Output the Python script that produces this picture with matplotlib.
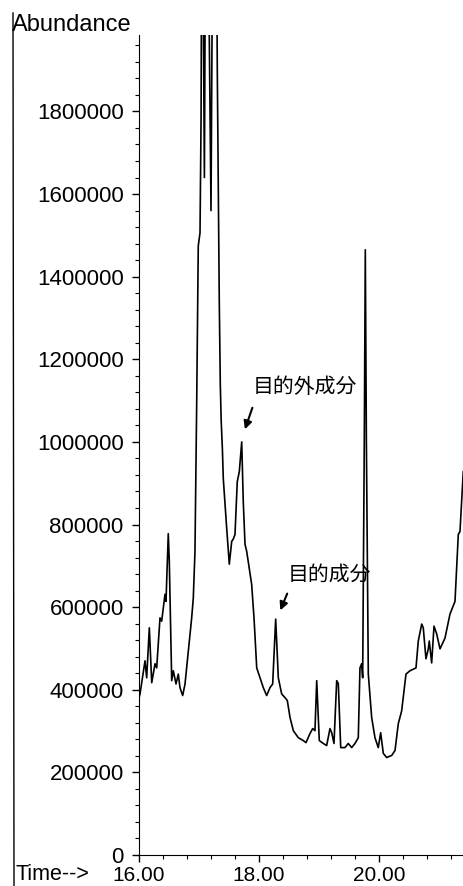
import matplotlib
matplotlib.use("Agg")
import matplotlib.pyplot as plt
from matplotlib.lines import Line2D
from matplotlib.ticker import MultipleLocator

plt.rcParams['font.family'] = ['Liberation Sans', 'Noto Sans CJK JP']

# retention time (min) and abundance
time = [16.00, 16.017, 16.10, 16.128, 16.172, 16.212, 16.267, 16.295, 16.35, 16.378,
        16.433, 16.45, 16.488, 16.505, 16.545, 16.572, 16.617, 16.655, 16.683, 16.728,
        16.767, 16.822, 16.878, 16.905, 16.933, 16.962, 16.988, 17.017, 17.035, 17.045,
        17.06, 17.09, 17.11, 17.15, 17.20, 17.23, 17.29, 17.305, 17.322, 17.338,
        17.355, 17.37, 17.39, 17.405, 17.462, 17.505, 17.545, 17.572, 17.60, 17.638,
        17.672, 17.712, 17.738, 17.767, 17.795, 17.838, 17.878, 17.917, 17.962, 18.017,
        18.072, 18.128, 18.183, 18.228, 18.278, 18.322, 18.378, 18.433, 18.472, 18.517,
        18.572, 18.655, 18.738, 18.783, 18.85, 18.895, 18.933, 18.962, 19.005, 19.072,
        19.128, 19.183, 19.212, 19.25, 19.295, 19.322, 19.362, 19.433, 19.488, 19.545,
        19.60, 19.655, 19.683, 19.712, 19.728, 19.755, 19.772, 19.79, 19.822, 19.878,
        19.933, 19.988, 20.028, 20.072, 20.128, 20.212, 20.267, 20.322, 20.378, 20.45,
        20.517, 20.617, 20.655, 20.712, 20.738, 20.783, 20.822, 20.838, 20.878, 20.917,
        20.962, 21.017, 21.10, 21.183, 21.267, 21.322, 21.35, 21.378, 21.405]
abundance = [380000, 390000, 470000, 429000, 550000, 417000, 463000, 453000, 574000, 566000,
             631000, 614000, 778000, 711000, 422000, 446000, 414000, 438000, 405000, 386000,
             414000, 494000, 574000, 622000, 735000, 1100000, 1475000, 1506000, 1790000, 2300000,
             2300000, 1640000, 2300000, 2300000, 1560000, 2300000, 2300000, 1900000, 1595000, 1340000,
             1140000, 1050000, 983000, 911000, 790000, 704000, 759000, 765000, 776000, 904000,
             928000, 1000000, 855000, 752000, 735000, 694000, 655000, 574000, 453000, 429000,
             405000, 386000, 405000, 414000, 571000, 429000, 390000, 381000, 374000, 333000,
             301000, 284000, 277000, 272000, 294000, 306000, 301000, 422000, 277000, 270000,
             265000, 306000, 296000, 270000, 422000, 415000, 260000, 260000, 270000, 260000,
             270000, 284000, 453000, 463000, 429000, 1000000, 1465000, 1000000, 438000, 333000,
             284000, 260000, 296000, 246000, 236000, 241000, 253000, 318000, 349000, 438000,
             446000, 453000, 518000, 559000, 550000, 475000, 499000, 518000, 465000, 554000,
             535000, 499000, 525000, 583000, 614000, 776000, 783000, 855000, 928000]

fig = plt.figure(figsize=(4.64, 8.86), dpi=100)
ax = fig.add_axes([139 / 464, 31 / 886, 325 / 464, 820 / 886])
ax.plot(time, abundance, color='black', lw=1.2)

ax.set_xlim(16.0, 21.417)
ax.set_ylim(0, 1985000)
ax.spines['top'].set_visible(False)
ax.spines['right'].set_visible(False)

ax.xaxis.set_major_locator(MultipleLocator(2))
ax.xaxis.set_minor_locator(MultipleLocator(0.4))
ax.yaxis.set_major_locator(MultipleLocator(200000))
ax.yaxis.set_minor_locator(MultipleLocator(40000))
ax.xaxis.set_major_formatter(lambda v, p: f"{v:.2f}")
ax.yaxis.set_major_formatter(lambda v, p: f"{v:.0f}")
ax.tick_params(axis='both', which='major', length=5, width=1)
ax.tick_params(axis='both', which='minor', length=3, width=0.8)
ax.tick_params(axis='x', which='major', pad=3, labelsize=15)
ax.tick_params(axis='y', which='major', pad=6, labelsize=16)

ax.text(17.9, 1133000, '目的外成分', fontsize=15, va='center', ha='left')
ax.annotate('', xy=(17.75, 1024000), xytext=(17.905, 1089000),
            arrowprops=dict(arrowstyle='-|>', color='black', lw=1.5, mutation_scale=12))
ax.text(18.483, 677000, '目的成分', fontsize=15, va='center', ha='left')
ax.annotate('', xy=(18.338, 586000), xytext=(18.488, 639000),
            arrowprops=dict(arrowstyle='-|>', color='black', lw=1.5, mutation_scale=12))

fig.text(12 / 464, 1 - 31 / 886, 'Abundance', fontsize=17, va='baseline', ha='left')
fig.text(15 / 464, 1 - 880 / 886, 'Time-->', fontsize=15.5, va='baseline', ha='left')
fig.add_artist(Line2D([13 / 464, 14 / 464], [1 - 13 / 886, 0], color='black', lw=1))

fig.savefig('out.png', dpi=100)
